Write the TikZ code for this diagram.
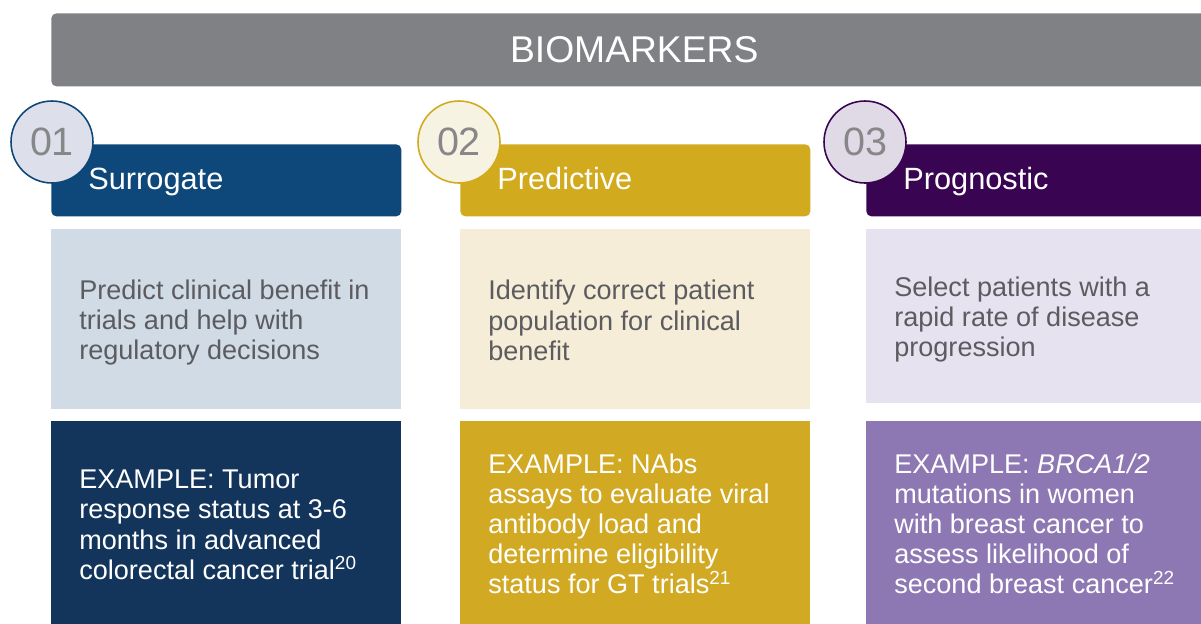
\documentclass[tikz,border=0pt]{standalone}
\usepackage{fontspec}
\setmainfont{Liberation Sans}
\definecolor{barGray}{RGB}{128,129,133}
\definecolor{txtGray}{RGB}{92,92,96}
\definecolor{numGray}{RGB}{135,135,138}
\definecolor{blueHead}{RGB}{14,71,122}
\definecolor{blueRing}{RGB}{221,224,235}
\definecolor{blueLight}{RGB}{208,219,230}
\definecolor{blueDark}{RGB}{19,53,92}
\definecolor{goldHead}{RGB}{209,170,30}
\definecolor{goldRing}{RGB}{247,243,227}
\definecolor{goldLight}{RGB}{245,237,215}
\definecolor{goldDark}{RGB}{210,169,35}
\definecolor{purpHead}{RGB}{57,4,82}
\definecolor{purpRing}{RGB}{224,218,230}
\definecolor{purpLight}{RGB}{230,226,239}
\definecolor{purpDark}{RGB}{142,120,180}
\begin{document}
\begin{tikzpicture}[x=.02cm,y=-.02cm,
 bar/.style={fill=barGray,rounded corners=.1cm,anchor=north west,minimum width=23.32cm,
 minimum height=1.46cm,text=white,font={\fontsize{21.2}{24}\selectfont}},
 head/.style={rounded corners=.1cm,anchor=north west,minimum height=1.44cm,inner ysep=0pt,
 inner xsep=.74cm,text width=5.52cm,text height=1.05em,text depth=0pt,align=left,
 text=white,font={\fontsize{17.5}{20}\selectfont}},
 ring/.style={circle,line width=.9pt,minimum size=1.64cm,inner sep=0pt,text=numGray,
 font={\fontsize{22.5}{24}\selectfont}},
 box/.style={anchor=north west,inner sep=0pt,minimum width=7cm},
 light/.style={box,minimum height=3.6cm},
 dark/.style={box,minimum height=4.1cm},
 txt/.style={anchor=west,inner sep=0pt,align=left,font={\fontsize{15.4}{17.1}\selectfont}},
 ]
 \useasboundingbox (0,0) rectangle (1201,623);
 \clip (0,0) rectangle (1201,623);
 \path (51,13) node[bar] (T) {BIOMARKERS};
 \path
 (51,144) node[head,fill=blueHead] (H1) {Surrogate} % <<< cột 1
 ++(0,85) node[light,fill=blueLight] (L1) {}
 ++(0,192) node[dark,fill=blueDark] (D1) {}
 (460,144) node[head,fill=goldHead] (H2) {Predictive} % <<< cột 2
 ++(0,85) node[light,fill=goldLight] (L2) {}
 ++(0,192) node[dark,fill=goldDark] (D2) {}
 (866,144) node[head,fill=purpHead] (H3) {Prognostic} % <<< cột 3
 ++(0,85) node[light,minimum height=3.48cm,fill=purpLight] (L3) {}
 ++(0,192) node[dark,fill=purpDark] (D3) {};
 % chữ trong các ô
 \node[txt,text=txtGray] (l1) at ([xshift=.56cm,yshift=-.06cm]L1.west)
 {Predict clinical benefit in\\trials and help with\\regulatory decisions};
 \node[txt,text=white] (d1) at ([xshift=.56cm,yshift=-.02cm]D1.west)
 {EXAMPLE: Tumor\\response status at 3-6\\months in advanced\\colorectal cancer trial\textsuperscript{20}};
 \node[txt,text=txtGray] (l2) at ([xshift=.56cm,yshift=-.02cm]L2.west)
 {Identify correct patient\\population for clinical\\benefit};
 \node[txt,text=white] (d2) at ([xshift=.56cm]D2.west)
 {EXAMPLE: NAbs\\assays to evaluate viral\\antibody load and\\determine eligibility\\status for GT trials\textsuperscript{21}};
 \node[txt,text=txtGray] (l3) at ([xshift=.56cm,yshift=-.06cm]L3.west)
 {Select patients with a\\rapid rate of disease\\progression};
 \node[txt,text=white] (d3) at ([xshift=.56cm]D3.west)
 {EXAMPLE: \textit{BRCA1/2}\\mutations in women\\with breast cancer to\\assess likelihood of\\second breast cancer\textsuperscript{22}};
 \node[ring,draw=blueHead,fill=blueRing] (C1) at (52,142) {01};
 \node[ring,draw=goldHead,fill=goldRing] (C2) at (459,142) {02};
 \node[ring,draw=purpHead,fill=purpRing] (C3) at (865,142) {03};
\end{tikzpicture}
\end{document}
